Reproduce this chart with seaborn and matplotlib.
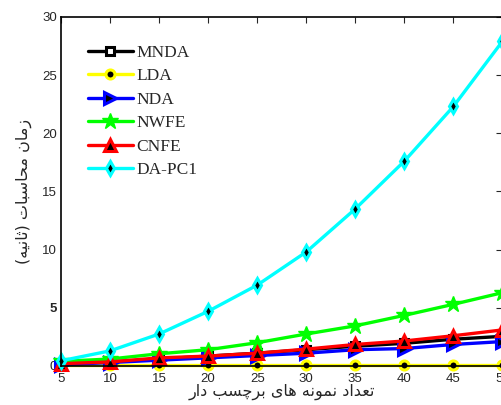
import matplotlib
matplotlib.use("Agg")
import matplotlib.pyplot as plt
import numpy as np
import pandas as pd
import seaborn as sns

# ---------------------------------------------------------------------------
# Data
# ---------------------------------------------------------------------------
n_labeled = [5, 10, 15, 20, 25, 30, 35, 40, 45, 50]
mnda = [0.15, 0.35, 0.6, 0.85, 1.1, 1.4, 1.7, 1.95, 2.3, 2.55]
lda = [0.05, 0.05, 0.05, 0.05, 0.05, 0.05, 0.05, 0.05, 0.05, 0.05]
nda = [0.1, 0.3, 0.5, 0.7, 0.9, 1.1, 1.4, 1.5, 1.85, 2.1]
nwfe = [0.4, 0.6, 1.05, 1.4, 2.0, 2.75, 3.45, 4.35, 5.3, 6.3]
cnfe = [0.2, 0.35, 0.7, 0.85, 1.1, 1.45, 1.85, 2.15, 2.6, 3.1]
dapc1 = [0.45, 1.3, 2.75, 4.7, 6.95, 9.8, 13.5, 17.6, 22.3, 27.9]

method_names = ["MNDA", "LDA", "NDA", "NWFE", "CNFE", "DA-PC1"]
x_label = "تعداد نمونه های برچسب دار"
y_label = "زمان محاسبات (ثانیه)"

# ---------------------------------------------------------------------------
# Minimal Persian shaping (matplotlib has no bidi / joining support)
# ---------------------------------------------------------------------------
# isolated, final, initial, medial  (None -> letter does not join forward)
FORMS = {
    "ا": (0xFE8D, 0xFE8E, None, None),
    "ب": (0xFE8F, 0xFE90, 0xFE91, 0xFE92),
    "ت": (0xFE95, 0xFE96, 0xFE97, 0xFE98),
    "ث": (0xFE99, 0xFE9A, 0xFE9B, 0xFE9C),
    "ح": (0xFEA1, 0xFEA2, 0xFEA3, 0xFEA4),
    "چ": (0xFB7A, 0xFB7B, 0xFB7C, 0xFB7D),
    "د": (0xFEA9, 0xFEAA, None, None),
    "ر": (0xFEAD, 0xFEAE, None, None),
    "ز": (0xFEAF, 0xFEB0, None, None),
    "س": (0xFEB1, 0xFEB2, 0xFEB3, 0xFEB4),
    "ع": (0xFEC9, 0xFECA, 0xFECB, 0xFECC),
    "م": (0xFEE1, 0xFEE2, 0xFEE3, 0xFEE4),
    "ن": (0xFEE5, 0xFEE6, 0xFEE7, 0xFEE8),
    "ه": (0xFEE9, 0xFEEA, 0xFEEB, 0xFEEC),
    "و": (0xFEED, 0xFEEE, None, None),
    "ی": (0xFEEF, 0xFEF0, 0xFEF3, 0xFEF4),
}
MIRROR = {"(": ")", ")": "("}


def shape_rtl(text: str) -> str:
    out = []
    for i, ch in enumerate(text):
        if ch not in FORMS:
            out.append(MIRROR.get(ch, ch))
            continue
        prev = text[i - 1] if i > 0 else ""
        nxt = text[i + 1] if i + 1 < len(text) else ""
        joins_prev = prev in FORMS and FORMS[prev][2] is not None
        joins_next = nxt in FORMS and FORMS[ch][2] is not None
        iso, fin, ini, med = FORMS[ch]
        if joins_prev and joins_next:
            code = med
        elif joins_prev:
            code = fin
        elif joins_next:
            code = ini
        else:
            code = iso
        out.append(chr(code))
    return "".join(reversed(out))


# ---------------------------------------------------------------------------
# Plot
# ---------------------------------------------------------------------------
sns.set_style("white")
plt.rcParams["font.family"] = ["Liberation Sans", "DejaVu Sans"]

series = [mnda, lda, nda, nwfe, cnfe, dapc1]
colors = ["#000000", "#ffff00", "#0000ff", "#00ff00", "#ff0000", "#00ffff"]
markers = ["s", "o", ">", "*", "^", "d"]
face = ["#ffffff", "#000000", "#000000", "#00ff00", "#000000", "#000000"]
msize = [6, 6.5, 8, 12, 8, 7]
mew = [2.2, 2.2, 2.2, 1.0, 2.2, 2.2]

fig = plt.figure(figsize=(5.01, 4.05), dpi=100)
ax = fig.add_axes([0.1218, 0.0963, 0.881, 0.862])

for name, vals, c, m, fc, ms, ew in zip(method_names, series, colors, markers,
                                         face, msize, mew):
    sns.lineplot(x=n_labeled, y=vals, ax=ax, color=c, marker=m,
                 markerfacecolor=fc, markeredgecolor=c, markersize=ms,
                 markeredgewidth=ew, linewidth=2.4, label=name, clip_on=False)

ax.set_xlim(5, 50)
ax.set_ylim(0, 30)
ax.set_xticks(n_labeled)
ax.set_yticks([0, 5, 10, 15, 20, 25, 30])
ax.tick_params(direction="in", top=True, right=True, length=4, width=0.8,
               labelsize=9.5, pad=3)
ax.tick_params(axis="x", pad=5)
for lbl in ax.get_yticklabels():
    if lbl.get_text() == "5":
        lbl.set_fontweight("bold")
for s in ax.spines.values():
    s.set_linewidth(1.2)
    s.set_color("black")

ax.set_xlabel(shape_rtl(x_label), fontsize=11.5, family=["DejaVu Sans"],
              labelpad=-1)
ax.set_ylabel(shape_rtl(y_label), fontsize=11.5, family=["DejaVu Sans"],
              labelpad=7)

leg = ax.legend(loc="upper left", bbox_to_anchor=(0.025, 0.965), frameon=False,
                prop={"family": "Liberation Serif", "size": 12.5},
                handlelength=2.6, handletextpad=0.2, labelspacing=0.42,
                numpoints=1)

fig.savefig("out.png", dpi=100)
